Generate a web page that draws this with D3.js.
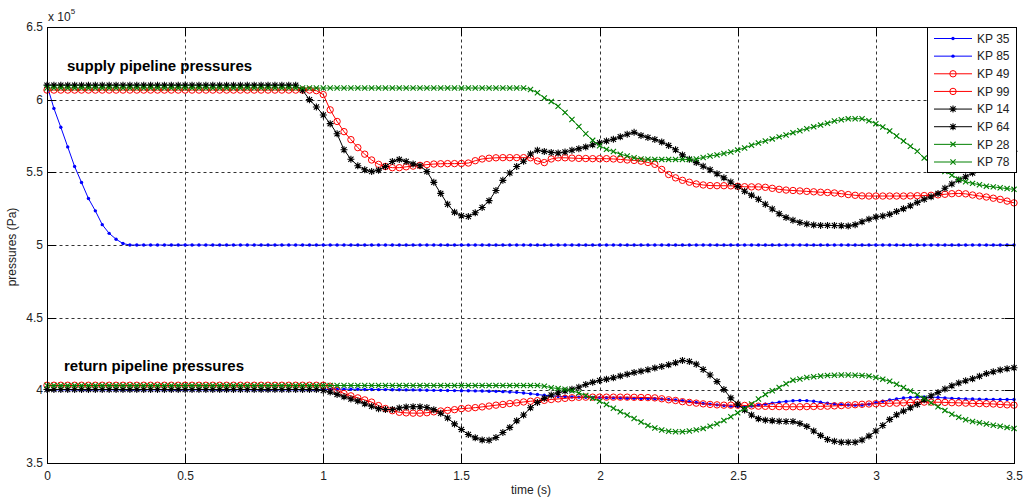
<!DOCTYPE html>
<html>
<head>
<meta charset="utf-8">
<script src="https://cdn.jsdelivr.net/npm/d3@7"></script>
<style>
  body { margin: 0; background: #fff; }
  text { font-family: "Liberation Sans", Arial, sans-serif; }
</style>
</head>
<body>
<svg id="chart" width="1033" height="500"></svg>
<script>
// sample step of the simulation (s); values are in units of 1e5 Pa
const dt = 0.025;
const xTicks = [0, 0.5, 1, 1.5, 2, 2.5, 3, 3.5];
const yTicks = [3.5, 4, 4.5, 5, 5.5, 6, 6.5];
const names = ["KP 35", "KP 85", "KP 49", "KP 99", "KP 14", "KP 64", "KP 28", "KP 78"];

// supply, blue
const kp35 = [
  6.10,5.94,5.81,5.675,5.54,5.43,5.32,5.235,5.14,5.08,5.04,5.01,5.00,5,5,5,5,5,5,5,
  5,5,5,5,5,5,5,5,5,5,5,5,5,5,5,5,5,5,5,5,
  5,5,5,5,5,5,5,5,5,5,5,5,5,5,5,5,5,5,5,5,
  5,5,5,5,5,5,5,5,5,5,5,5,5,5,5,5,5,5,5,5,
  5,5,5,5,5,5,5,5,5,5,5,5,5,5,5,5,5,5,5,5,
  5,5,5,5,5,5,5,5,5,5,5,5,5,5,5,5,5,5,5,5,
  5,5,5,5,5,5,5,5,5,5,5,5,5,5,5,5,5,5,5,5,
  5];
// return, blue
const kp85 = [
  4.003,4.003,4.003,4.003,4.003,4.003,4.003,4.003,4.003,4.003,4.003,4.003,4.003,4.003,4.003,4.003,4.003,4.003,4.003,4.003,
  4.003,4.003,4.003,4.003,4.003,4.003,4.003,4.003,4.003,4.003,4.003,4.003,4.003,4.003,4.003,4.003,4.003,4.003,4.003,4.003,
  4.005,4.008,4.008,4.008,4.007,4.007,4.006,4.006,4.005,4.005,4.004,4.004,4.003,4.003,4.002,4.001,4.0,4.0,3.999,3.998,
  3.997,3.997,3.996,3.995,3.994,3.993,3.991,3.989,3.986,3.982,3.977,3.971,3.966,3.962,3.958,3.956,3.954,3.953,3.952,3.951,
  3.950,3.949,3.948,3.947,3.946,3.945,3.944,3.943,3.942,3.940,3.937,3.933,3.928,3.922,3.916,3.91,3.905,3.90,3.895,3.891,
  3.888,3.888,3.892,3.898,3.905,3.912,3.918,3.924,3.928,3.93,3.929,3.925,3.918,3.911,3.906,3.902,3.899,3.898,3.899,3.905,
  3.915,3.925,3.933,3.941,3.947,3.951,3.953,3.954,3.953,3.951,3.948,3.945,3.943,3.941,3.94,3.939,3.938,3.938,3.937,3.937,
  3.937];
// supply, red
const kp49 = [
  6.066,6.066,6.066,6.066,6.066,6.066,6.066,6.066,6.066,6.066,6.066,6.066,6.066,6.066,6.066,6.066,6.066,6.066,6.066,6.066,
  6.066,6.066,6.066,6.066,6.066,6.066,6.066,6.066,6.066,6.066,6.066,6.066,6.066,6.066,6.066,6.066,6.066,6.066,6.066,6.062,
  6.035,5.93,5.85,5.78,5.725,5.67,5.625,5.585,5.555,5.54,5.532,5.532,5.538,5.543,5.548,5.553,5.557,5.559,5.56,5.56,
  5.561,5.564,5.58,5.592,5.597,5.6,5.601,5.601,5.601,5.601,5.6,5.578,5.567,5.592,5.6,5.6,5.598,5.596,5.595,5.594,
  5.594,5.594,5.592,5.589,5.585,5.582,5.577,5.568,5.555,5.52,5.485,5.462,5.445,5.432,5.42,5.413,5.409,5.408,5.408,5.407,
  5.404,5.401,5.4,5.4,5.397,5.39,5.383,5.378,5.375,5.372,5.369,5.366,5.363,5.361,5.358,5.353,5.347,5.342,5.338,5.337,
  5.337,5.337,5.337,5.337,5.337,5.338,5.339,5.34,5.342,5.345,5.349,5.353,5.355,5.352,5.344,5.337,5.33,5.322,5.314,5.302,
  5.29];
// return, red
const kp99 = [
  4.035,4.035,4.035,4.035,4.035,4.035,4.035,4.035,4.035,4.035,4.035,4.035,4.035,4.035,4.035,4.035,4.035,4.035,4.035,4.035,
  4.035,4.035,4.035,4.035,4.035,4.035,4.035,4.035,4.035,4.035,4.035,4.035,4.035,4.035,4.035,4.035,4.035,4.035,4.035,4.035,
  4.035,4.028,4.0,3.978,3.962,3.948,3.934,3.919,3.895,3.875,3.86,3.849,3.845,3.843,3.843,3.846,3.852,3.858,3.862,3.867,
  3.874,3.877,3.881,3.886,3.892,3.898,3.903,3.909,3.914,3.92,3.925,3.929,3.931,3.937,3.941,3.945,3.949,3.952,3.953,3.953,
  3.953,3.953,3.953,3.953,3.953,3.952,3.951,3.95,3.948,3.942,3.935,3.93,3.922,3.917,3.912,3.907,3.903,3.9,3.898,3.898,
  3.898,3.896,3.893,3.891,3.89,3.889,3.888,3.887,3.887,3.887,3.888,3.889,3.89,3.891,3.893,3.895,3.898,3.901,3.904,3.906,
  3.908,3.91,3.911,3.912,3.914,3.916,3.918,3.919,3.919,3.918,3.917,3.915,3.914,3.912,3.91,3.909,3.908,3.906,3.903,3.9,
  3.898];
// supply, black
const kp14 = [
  6.1,6.1,6.1,6.1,6.1,6.1,6.1,6.1,6.1,6.1,6.1,6.1,6.1,6.1,6.1,6.1,6.1,6.1,6.1,6.1,
  6.1,6.1,6.1,6.1,6.1,6.1,6.1,6.1,6.1,6.1,6.1,6.1,6.1,6.1,6.1,6.1,6.1,6.065,6.0,5.95,
  5.895,5.835,5.765,5.655,5.59,5.545,5.518,5.506,5.515,5.54,5.575,5.589,5.575,5.558,5.545,5.505,5.431,5.355,5.28,5.226,
  5.201,5.196,5.222,5.258,5.305,5.375,5.445,5.495,5.54,5.576,5.626,5.652,5.644,5.637,5.633,5.64,5.652,5.663,5.675,5.69,
  5.704,5.716,5.727,5.745,5.762,5.775,5.754,5.74,5.726,5.708,5.685,5.655,5.62,5.59,5.567,5.542,5.518,5.49,5.462,5.433,
  5.402,5.37,5.343,5.315,5.28,5.248,5.215,5.19,5.17,5.155,5.145,5.138,5.135,5.135,5.134,5.132,5.13,5.14,5.16,5.178,
  5.192,5.2,5.211,5.23,5.25,5.27,5.293,5.315,5.332,5.355,5.39,5.42,5.448,5.47,5.495,5.52,5.545,5.57,5.595,5.62,
  5.645];
// return, black
const kp64 = [
  4.006,4.006,4.006,4.006,4.006,4.006,4.006,4.006,4.006,4.006,4.006,4.006,4.006,4.006,4.006,4.006,4.006,4.006,4.006,4.006,
  4.006,4.006,4.006,4.006,4.006,4.006,4.006,4.006,4.006,4.006,4.006,4.006,4.006,4.006,4.006,4.006,4.006,4.006,4.006,4.006,
  3.999,3.988,3.972,3.955,3.94,3.926,3.908,3.89,3.874,3.868,3.868,3.878,3.885,3.887,3.887,3.882,3.867,3.842,3.81,3.769,
  3.73,3.696,3.673,3.659,3.657,3.675,3.71,3.745,3.79,3.83,3.88,3.917,3.945,3.968,3.983,3.996,4.008,4.021,4.04,4.055,
  4.068,4.077,4.086,4.098,4.11,4.122,4.132,4.142,4.153,4.164,4.176,4.19,4.205,4.198,4.18,4.143,4.105,4.06,4.005,3.948,
  3.905,3.865,3.83,3.805,3.795,3.79,3.787,3.786,3.785,3.772,3.752,3.72,3.69,3.662,3.65,3.643,3.643,3.643,3.658,3.685,
  3.72,3.758,3.8,3.832,3.857,3.88,3.903,3.935,3.963,3.985,4.009,4.032,4.05,4.066,4.08,4.097,4.115,4.128,4.14,4.149,
  4.155];
// supply, green
const kp28 = [
  6.08,6.08,6.08,6.08,6.08,6.08,6.08,6.08,6.08,6.08,6.08,6.08,6.08,6.08,6.08,6.08,6.08,6.08,6.08,6.08,
  6.08,6.08,6.08,6.08,6.08,6.08,6.08,6.08,6.08,6.08,6.08,6.08,6.08,6.08,6.08,6.08,6.08,6.08,6.08,6.08,
  6.08,6.08,6.08,6.08,6.08,6.08,6.08,6.08,6.08,6.08,6.08,6.08,6.08,6.08,6.08,6.08,6.08,6.08,6.08,6.08,
  6.08,6.08,6.08,6.08,6.08,6.08,6.08,6.08,6.08,6.08,6.07,6.048,6.012,5.988,5.955,5.912,5.864,5.815,5.765,5.72,
  5.683,5.658,5.643,5.625,5.612,5.6,5.592,5.59,5.589,5.589,5.589,5.589,5.589,5.589,5.592,5.602,5.612,5.62,5.63,5.64,
  5.653,5.668,5.686,5.702,5.716,5.73,5.744,5.757,5.773,5.786,5.8,5.813,5.825,5.838,5.853,5.862,5.868,5.869,5.869,5.855,
  5.835,5.812,5.785,5.75,5.715,5.68,5.645,5.598,5.565,5.535,5.505,5.48,5.453,5.435,5.424,5.415,5.405,5.4,5.394,5.388,
  5.383];
// return, green
const kp78 = [
  4.033,4.033,4.033,4.033,4.033,4.033,4.033,4.033,4.033,4.033,4.033,4.033,4.033,4.033,4.033,4.033,4.033,4.033,4.033,4.033,
  4.033,4.033,4.033,4.033,4.033,4.033,4.033,4.033,4.033,4.033,4.033,4.033,4.033,4.033,4.033,4.033,4.033,4.033,4.033,4.033,
  4.033,4.033,4.033,4.033,4.033,4.033,4.033,4.033,4.033,4.033,4.033,4.033,4.033,4.033,4.033,4.033,4.033,4.033,4.033,4.033,
  4.033,4.033,4.033,4.033,4.033,4.033,4.033,4.033,4.033,4.033,4.033,4.033,4.029,4.018,4.012,4.007,3.997,3.982,3.965,3.945,
  3.925,3.902,3.877,3.853,3.83,3.806,3.782,3.758,3.741,3.727,3.718,3.715,3.715,3.72,3.728,3.738,3.753,3.77,3.792,3.818,
  3.845,3.873,3.906,3.94,3.972,3.997,4.02,4.045,4.07,4.078,4.088,4.093,4.098,4.102,4.104,4.105,4.105,4.104,4.102,4.098,
  4.088,4.077,4.062,4.042,4.02,3.995,3.97,3.945,3.915,3.887,3.862,3.836,3.815,3.798,3.786,3.777,3.768,3.76,3.753,3.745,
  3.738];

const seriesValues = [kp35, kp85, kp49, kp99, kp14, kp64, kp28, kp78];

// look of each curve (matlab style: '.-', 'o-', '*-', 'x-')
const styles = {
  "KP 35": {color: "#0000ff", marker: "dot"},
  "KP 85": {color: "#0000ff", marker: "dot"},
  "KP 49": {color: "#ff0000", marker: "circle"},
  "KP 99": {color: "#ff0000", marker: "circle"},
  "KP 14": {color: "#000000", marker: "star"},
  "KP 64": {color: "#000000", marker: "star"},
  "KP 28": {color: "#008000", marker: "cross"},
  "KP 78": {color: "#008000", marker: "cross"}
};

const width = 1033, height = 500;
const svg = d3.select("#chart");

const x = d3.scaleLinear([0, 3.5], [47, 1014]);
const y = d3.scaleLinear([3.5, 6.5], [463, 27]);
const xr = x.copy().interpolate(d3.interpolateRound);
const yr = y.copy().interpolate(d3.interpolateRound);

// dotted grid
const grid = svg.append("g")
    .attr("stroke", "#333")
    .attr("stroke-width", 1)
    .attr("stroke-dasharray", "3,3");
grid.selectAll(".gx").data(xTicks.slice(1, -1)).join("line")
    .attr("x1", d => xr(d) + 0.5).attr("x2", d => xr(d) + 0.5)
    .attr("y1", 27.5).attr("y2", 463.5);
grid.selectAll(".gy").data(yTicks.slice(1, -1)).join("line")
    .attr("y1", d => yr(d) + 0.5).attr("y2", d => yr(d) + 0.5)
    .attr("x1", 47.5).attr("x2", 1014.5);

// markers
function markerPath(kind) {
  if (kind === "star") return "M-3.5,0H3.5M0,-3.5V3.5M-2.6,-2.6L2.6,2.6M-2.6,2.6L2.6,-2.6";
  if (kind === "cross") return "M-2.6,-2.6L2.6,2.6M-2.6,2.6L2.6,-2.6";
  return null;
}
function drawMarker(g, kind, color) {
  if (kind === "dot") {
    g.append("circle").attr("r", 1.7).attr("fill", color);
  } else if (kind === "circle") {
    g.append("circle").attr("r", 3.2).attr("fill", "none").attr("stroke", color).attr("stroke-width", 1);
  } else {
    g.append("path").attr("d", markerPath(kind)).attr("fill", "none").attr("stroke", color).attr("stroke-width", 1.1);
  }
}

const line = d3.line()
    .x((d, i) => x(i * dt))
    .y(d => y(d));

const curves = svg.append("g").attr("id", "curves");
names.forEach((name, k) => {
  const st = styles[name];
  const vals = seriesValues[k];
  const g = curves.append("g");
  g.append("path")
      .datum(vals)
      .attr("fill", "none")
      .attr("stroke", st.color)
      .attr("stroke-width", 1)
      .attr("d", line);
  g.selectAll("g.m").data(vals).join("g")
      .attr("class", "m")
      .attr("transform", (d, i) => `translate(${x(i * dt)},${y(d)})`)
      .each(function() { drawMarker(d3.select(this), st.marker, st.color); });
});

// axes box with inward ticks
const fmt = d3.format("");
function styleAxis(g) {
  g.attr("font-family", "Liberation Sans, Arial, sans-serif")
   .attr("font-size", 12)
   .attr("color", "#000");
  g.selectAll("text").attr("fill", "#222");
}
svg.append("g").attr("transform", "translate(0,463)")
    .call(d3.axisBottom(xr).tickValues(xTicks).tickFormat(fmt).tickSize(-9).tickSizeOuter(0).tickPadding(8))
    .call(styleAxis);
svg.append("g").attr("transform", "translate(47,0)")
    .call(d3.axisLeft(yr).tickValues(yTicks).tickFormat(fmt).tickSize(-9).tickSizeOuter(0).tickPadding(4))
    .call(styleAxis);
svg.append("g").attr("transform", "translate(0,27)")
    .call(d3.axisTop(xr).tickValues(xTicks).tickFormat(() => "").tickSize(-9).tickSizeOuter(0))
    .call(styleAxis);
svg.append("g").attr("transform", "translate(1014,0)")
    .call(d3.axisRight(yr).tickValues(yTicks).tickFormat(() => "").tickSize(-9).tickSizeOuter(0))
    .call(styleAxis);
svg.append("rect")
    .attr("x", 47.5).attr("y", 27.5).attr("width", 967).attr("height", 436)
    .attr("fill", "none").attr("stroke", "#000");

// exponent
const expo = svg.append("text").attr("x", 48).attr("y", 21).attr("font-size", 12).attr("fill", "#222");
expo.append("tspan").text("x 10");
expo.append("tspan").attr("font-size", 8).attr("dy", -7).text("5");

// axis titles
svg.append("text")
    .attr("x", 531).attr("y", 494)
    .attr("text-anchor", "middle").attr("font-size", 12).attr("fill", "#222")
    .text("time (s)");
svg.append("text")
    .attr("transform", "translate(16,247) rotate(-90)")
    .attr("text-anchor", "middle").attr("font-size", 12).attr("fill", "#222")
    .text("pressures (Pa)");

// annotations
svg.append("text").attr("x", 67).attr("y", 70.5)
    .attr("font-size", 15).attr("font-weight", "bold").attr("fill", "#000")
    .text("supply pipeline pressures");
svg.append("text").attr("x", 64).attr("y", 370.5)
    .attr("font-size", 15).attr("font-weight", "bold").attr("fill", "#000")
    .text("return pipeline pressures");

// legend
const legend = svg.append("g").attr("id", "legend");
legend.append("rect")
    .attr("x", 927.5).attr("y", 27.5).attr("width", 89).attr("height", 145)
    .attr("fill", "#fff").attr("stroke", "#000");
const rowY = d3.scalePoint(names, [38.5, 162]);
names.forEach(name => {
  const st = styles[name];
  const ly = rowY(name);
  const row = legend.append("g");
  row.append("line").attr("x1", 934).attr("x2", 972).attr("y1", ly).attr("y2", ly)
      .attr("stroke", st.color).attr("stroke-width", 1);
  const m = row.append("g").attr("transform", `translate(953,${ly})`);
  drawMarker(m, st.marker, st.color);
  row.append("text").attr("x", 977).attr("y", ly).attr("dy", "0.36em")
      .attr("font-size", 12).attr("fill", "#222").text(name);
});
</script>
</body>
</html>
